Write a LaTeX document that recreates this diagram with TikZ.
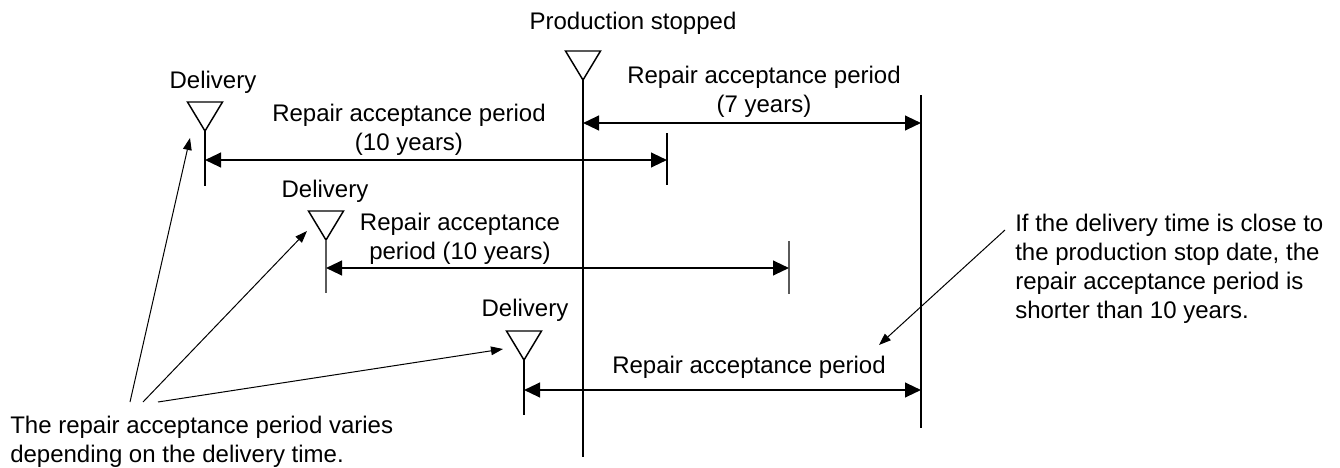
\documentclass[tikz,border=0pt]{standalone}
\usepackage{fontspec}
\setmainfont{Liberation Sans}
\usetikzlibrary{arrows.meta,positioning}
\definecolor{tickgray}{RGB}{90,90,90}

\begin{document}
\begin{tikzpicture}[x=0.75pt,y=-0.75pt,
                every node/.style={inner sep=0pt,font=\fontsize{18pt}{21.75pt}\selectfont},
                period/.style={line width=1.6pt,{Triangle[length=12pt,width=11pt]}-{Triangle[length=12pt,width=11pt]}},
                pointer/.style={line width=0.75pt,-{Triangle[length=9pt,width=6.5pt]}},
                marker/.style={line width=1.1pt,line join=miter},
                stem/.style={line width=1pt}]
                \useasboundingbox (0,0) rectangle (1340,468);
                % production stop and end of repair acceptance
                \coordinate (stoptip) at (583,80);
                \coordinate (stopend) at (583,457);
                \coordinate (endtop) at (921,95);
                \coordinate (endbot) at (921,428);
                \draw [marker] (stoptip) -- ++(-17.5,-29) -- ++(35,0) -- cycle;
                \draw [stem] (stoptip) -- (stopend);
                \draw [stem] (endtop) -- (endbot);
                \node [anchor=base] (stoplbl) at (633,29) {Production stopped};
                \coordinate (p7a) at (583,123);
                \coordinate (p7b) at (921,123);
                \draw [period] (p7a) -- (p7b);
                \node [anchor=base,align=center] (p7lbl) at (764,112) {Repair acceptance period\\(7 years)};
                % delivery 1
                \coordinate (d1tip) at (205,131);
                \coordinate (d1bot) at (205,186);
                \coordinate (e1top) at (667,133);
                \coordinate (e1bot) at (667,185);
                \draw [marker] (d1tip) -- ++(-17.5,-29) -- ++(35,0) -- cycle;
                \draw [stem] (d1tip) -- (d1bot);
                \draw [stem] (e1top) -- (e1bot);
                \node [anchor=base] (d1lbl) at (213,88) {Delivery};
                \coordinate (p1a) at (205,160);
                \coordinate (p1b) at (667,160);
                \draw [period] (p1a) -- (p1b);
                \node [anchor=base,align=center] (p1lbl) at (409,150) {Repair acceptance period\\(10 years)};
                % delivery 2
                \coordinate (d2tip) at (326,240);
                \coordinate (d2bot) at (326,293);
                \coordinate (e2top) at (789,241);
                \coordinate (e2bot) at (789,294);
                \draw [marker] (d2tip) -- ++(-17.5,-29) -- ++(35,0) -- cycle;
                \draw [stem,tickgray,line width=1.5pt] (d2tip) -- (d2bot);
                \draw [stem,tickgray,line width=1.5pt] (e2top) -- (e2bot);
                \node [anchor=base] (d2lbl) at (325,197) {Delivery};
                \coordinate (p2a) at (326,268);
                \coordinate (p2b) at (789,268);
                \draw [period] (p2a) -- (p2b);
                \node [anchor=base,align=center] (p2lbl) at (460,259) {Repair acceptance\\period (10 years)};
                % delivery 3
                \coordinate (d3tip) at (524,360);
                \coordinate (d3bot) at (524,415);
                \draw [marker] (d3tip) -- ++(-17.5,-29) -- ++(35,0) -- cycle;
                \draw [stem] (d3tip) -- (d3bot);
                \node [anchor=base] (d3lbl) at (525,316) {Delivery};
                \coordinate (p3a) at (524,390);
                \coordinate (p3b) at (921,390);
                \draw [period] (p3a) -- (p3b);
                \node [anchor=base] (p3lbl) at (749,373) {Repair acceptance period};
                % notes
                \node [anchor=base west,align=left] (varynote) at (10,462) {The repair acceptance period varies\\depending on the delivery time.};
                \coordinate (v1) at (130,402);
                \coordinate (v2) at (143,402);
                \coordinate (v3) at (158,402);
                \coordinate (t1) at (190,138);
                \coordinate (t2) at (307,231);
                \coordinate (t3) at (503,349);
                \draw [pointer] (v1) -- (t1);
                \draw [pointer] (v2) -- (t2);
                \draw [pointer] (v3) -- (t3);
                \node [anchor=base west,align=left] (shortnote) at (1015,318) {If the delivery time is close to\\the production stop date, the\\repair acceptance period is\\shorter than 10 years.};
                \coordinate (s0) at (1005,230);
                \coordinate (s1) at (879,345);
                \draw [pointer] (s0) -- (s1);
\end{tikzpicture}
\end{document}
